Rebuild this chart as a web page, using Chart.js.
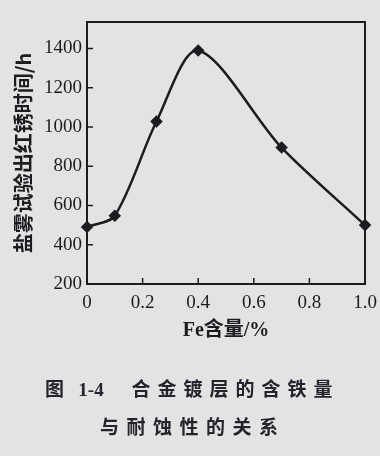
<!DOCTYPE html>
<html>
<head>
<meta charset="utf-8">
<script src="https://cdn.jsdelivr.net/npm/chart.js@4.4.0/dist/chart.umd.min.js"></script>
<style>
  html, body { margin: 0; padding: 0; background: #e2e3e2; }
  #wrap { position: relative; width: 380px; height: 456px; overflow: hidden; }
  canvas { position: absolute; left: 0; top: 0; }
  .cap {
    position: absolute; left: 0; width: 380px;
    font-family: "Noto Sans CJK SC", sans-serif; font-weight: bold;
    font-size: 19px; color: #24242c; white-space: pre;
  }
</style>
</head>
<body>
<div id="wrap">
  <canvas id="c" width="380" height="456"></canvas>
  <div class="cap" style="top:374px; left:45px; letter-spacing:5px;">图 <span style="font-family:'Liberation Serif';font-weight:bold;letter-spacing:0">1-4</span>   <span style="letter-spacing:7px">合金镀层的含铁量</span></div>
  <div class="cap" style="top:412px; left:100px; letter-spacing:7.5px;">与耐蚀性的关系</div>
</div>
<script>
// data
const feContent = [0, 0.1, 0.25, 0.4, 0.7, 1.0];
const rustHours = [490, 548, 1028, 1390, 895, 500];
const xTickValues = [0, 0.2, 0.4, 0.6, 0.8, 1.0];
const yTickValues = [200, 400, 600, 800, 1000, 1200, 1400];

const ink = "#1c1c20";
const serif = "'Liberation Serif', 'Times New Roman', serif";

// frame + inner tick marks
const framePlugin = {
  id: "frame",
  afterDraw(chart) {
    const { ctx, chartArea: a, scales } = chart;
    ctx.save();
    ctx.strokeStyle = ink;
    ctx.lineWidth = 2;
    ctx.strokeRect(a.left, a.top, a.right - a.left, a.bottom - a.top);
    ctx.lineWidth = 1.5;
    yTickValues.forEach(v => {
      const y = scales.y.getPixelForValue(v);
      ctx.beginPath();
      ctx.moveTo(a.left, y);
      ctx.lineTo(a.left + 6, y);
      ctx.stroke();
    });
    xTickValues.forEach(v => {
      const x = scales.x.getPixelForValue(v);
      ctx.beginPath();
      ctx.moveTo(x, a.bottom);
      ctx.lineTo(x, a.bottom - 6);
      ctx.stroke();
    });
    ctx.restore();
  }
};

new Chart(document.getElementById("c"), {
  type: "line",
  data: {
    datasets: [{
      data: feContent.map((x, i) => ({ x: x, y: rustHours[i] })),
      borderColor: ink,
      backgroundColor: ink,
      borderWidth: 2.5,
      tension: 0.3,
      pointStyle: "rectRot",
      pointRadius: 4.5,
      pointHoverRadius: 4.5,
      clip: false
    }]
  },
  options: {
    responsive: false,
    animation: false,
    events: [],
    layout: { padding: { left: 0, top: 22, right: 15, bottom: 112 } },
    plugins: { legend: { display: false }, tooltip: { enabled: false } },
    scales: {
      x: {
        type: "linear",
        min: 0,
        max: 1,
        afterBuildTicks: s => { s.ticks = xTickValues.map(v => ({ value: v })); },
        afterFit: s => { s.height = 60; s.paddingLeft = 0; s.paddingRight = 0; },
        grid: { display: false, drawTicks: false },
        border: { display: false },
        ticks: {
          padding: 8,
          color: ink,
          font: { family: serif, size: 19 },
          callback: v => (v === 0 ? "0" : v.toFixed(1))
        },
        title: {
          display: true,
          text: "Fe含量/%",
          color: ink,
          font: { family: serif + ", 'Noto Sans CJK SC'", size: 20, weight: "bold" },
          padding: { top: 0, bottom: 1 }
        }
      },
      y: {
        min: 200,
        max: 1535,
        afterBuildTicks: s => { s.ticks = yTickValues.map(v => ({ value: v })); },
        afterFit: s => { s.width = 87; s.paddingTop = 0; s.paddingBottom = 0; },
        grid: { display: false, drawTicks: false },
        border: { display: false },
        ticks: {
          padding: 5,
          color: ink,
          font: { family: serif, size: 19 },
          callback: v => String(v)
        },
        title: {
          display: true,
          text: "盐雾试验出红锈时间/h",
          color: ink,
          font: { family: "'Noto Sans CJK SC', sans-serif", size: 20, weight: "bold" },
          padding: { top: 11, bottom: 0 }
        }
      }
    }
  },
  plugins: [framePlugin]
});
</script>
</body>
</html>
